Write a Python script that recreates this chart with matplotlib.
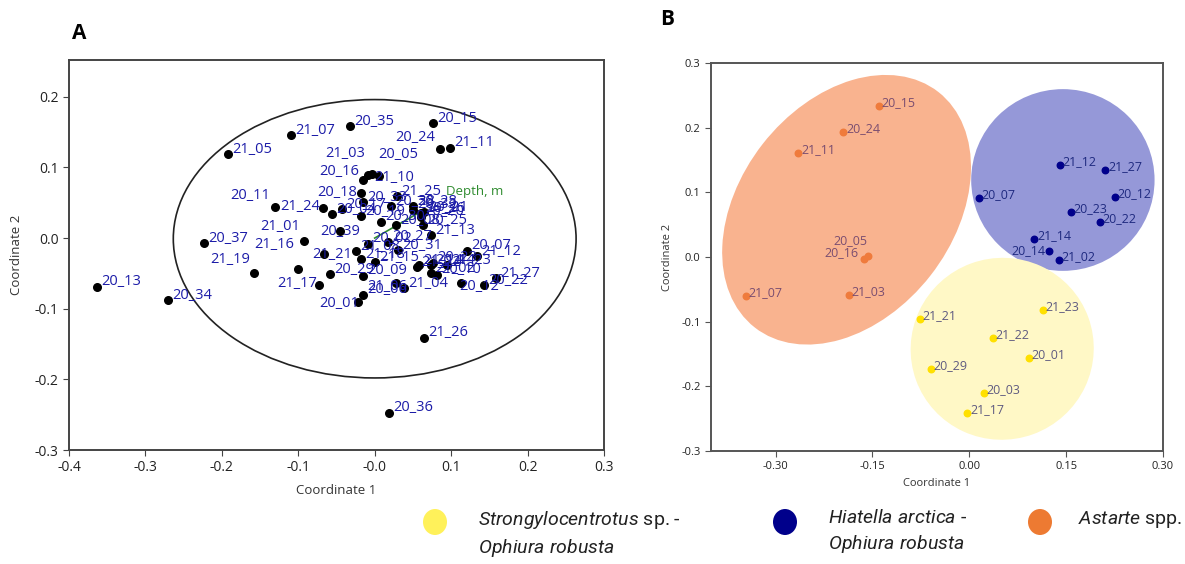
import numpy as np
import matplotlib.pyplot as plt
from matplotlib.patches import Ellipse
from matplotlib.ticker import FormatStrFormatter

plt.rcParams['font.family'] = ['Open Sans', 'DejaVu Sans']
plt.rcParams['axes.unicode_minus'] = False
plt.rcParams['mathtext.fontset'] = 'custom'
plt.rcParams['mathtext.it'] = 'Roboto:italic'
plt.rcParams['mathtext.rm'] = 'Roboto'

# ---------------- Panel A: nMDS of all stations ----------------
a_labels = ['20_13', '20_34', '20_37', '21_19', '21_05', '21_07', '20_35', '20_15',
            '20_24', '21_11', '20_11', '21_24', '21_01', '20_39', '21_16', '21_21',
            '21_17', '20_01', '20_36', '21_26', '21_12', '21_27', '20_12', '20_22',
            '21_10', '20_05', '21_03', '20_16', '20_18', '20_33', '21_25', '20_17',
            '20_28', '20_04', '20_19', '20_30', '20_08', '20_20', '20_21', '20_26',
            '20_25', '21_13', '20_07', '20_02', '20_27', '21_08', '21_18', '21_15',
            '20_09', '20_29', '20_10', '21_06', '21_04', '20_06', '20_23', '21_14',
            '20_14', '21_23', '21_02', '20_38', '20_31', '21_22', '20_32']
a_x = [-0.363, -0.270, -0.223, -0.158, -0.192, -0.109, -0.032, 0.076,
       0.085, 0.098, -0.131, -0.068, -0.092, -0.045, -0.100, -0.066,
       -0.073, -0.022, 0.019, 0.064, 0.134, 0.159, 0.113, 0.143,
       -0.004, 0.005, -0.009, -0.015, -0.018, -0.015, 0.029, -0.043,
       0.050, -0.056, -0.018, 0.008, 0.028, 0.060, 0.065, 0.061,
       0.063, 0.074, 0.121, -0.009, 0.018, -0.024, -0.018, 0.000,
       -0.015, -0.059, 0.082, 0.028, 0.038, -0.015, 0.076, 0.058,
       0.074, 0.095, 0.074, 0.021, 0.030, 0.056, 0.050]
a_y = [-0.069, -0.088, -0.007, -0.049, 0.119, 0.146, 0.158, 0.163,
       0.126, 0.128, 0.044, 0.043, -0.004, 0.010, -0.044, -0.022,
       -0.066, -0.091, -0.247, -0.141, -0.026, -0.057, -0.063, -0.067,
       0.091, 0.088, 0.089, 0.082, 0.064, 0.051, 0.059, 0.041,
       0.045, 0.034, 0.031, 0.023, 0.018, 0.030, 0.037, 0.035,
       0.018, 0.004, -0.018, -0.008, -0.005, -0.019, -0.030, -0.034,
       -0.053, -0.051, -0.052, -0.064, -0.071, -0.080, -0.035, -0.038,
       -0.038, -0.038, -0.050, 0.045, -0.017, -0.041, 0.040]

depth_vec = (0.063, 0.039)

# ---------------- Panel B: three groups ----------------
or_labels = ['20_15', '20_24', '21_11', '20_05', '20_16', '21_07', '21_03']
or_x = [-0.140, -0.195, -0.265, -0.157, -0.163, -0.346, -0.187]
or_y = [0.233, 0.193, 0.160, 0.002, -0.003, -0.060, -0.059]

bl_labels = ['20_07', '21_12', '21_27', '20_12', '20_23', '20_22', '21_14', '20_14', '21_02']
bl_x = [0.015, 0.140, 0.211, 0.225, 0.157, 0.202, 0.101, 0.124, 0.139]
bl_y = [0.091, 0.142, 0.134, 0.092, 0.070, 0.054, 0.027, 0.009, -0.005]

ye_labels = ['21_23', '21_21', '21_22', '20_01', '20_29', '20_03', '21_17']
ye_x = [0.114, -0.077, 0.037, 0.092, -0.060, 0.023, -0.003]
ye_y = [-0.082, -0.096, -0.125, -0.157, -0.173, -0.211, -0.242]

# label placement tweaks (offset points, ha)
a_offsets = {'21_19': (-3, 7, 'right'), '20_24': (-3, 6, 'right'), '20_11': (-3, 6, 'right'),
             '21_24': (-2, -2, 'right'), '21_01': (-3, 8, 'right'), '20_39': (14, -3, 'right'),
             '21_16': (-3, 15, 'right'), '21_21': (20, -3, 'right'), '21_17': (-1, -2, 'right'),
             '20_01': (1, -3, 'right'), '20_16': (-3, 4, 'right'), '20_18': (-3, -2, 'right'),
             '21_03': (-2, 13, 'right'), '20_05': (0, 13, 'left'), '21_10': (2, -5, 'left'),
             '20_12': (-1, -5, 'left'), '21_06': (8, -5, 'right')}
b_offsets = {'20_05': (0, 8, 'right'), '20_16': (-4, 2, 'right'), '20_14': (-3, -2, 'right')}

fig = plt.figure(figsize=(11.85, 5.64), dpi=100)

# ===== A =====
axA = fig.add_axes([0.0582, 0.2021, 0.4515, 0.6915])
axA.add_patch(Ellipse((0.0, -0.001), 0.527, 0.394, fill=False, edgecolor='#222222', lw=1.2))
axA.plot([0, depth_vec[0]], [0, depth_vec[1]], color='#2e8b2e', lw=1.2)
axA.text(depth_vec[0] + 0.03, depth_vec[1] + 0.022, 'Depth, m', color='#2e8b2e', fontsize=9.5)
axA.scatter(a_x, a_y, s=30, color='black', zorder=3)
for lab, x, y in zip(a_labels, a_x, a_y):
    dx, dy, ha = a_offsets.get(lab, (3, 1, 'left'))
    axA.annotate(lab, (x, y), xytext=(dx, dy), textcoords='offset points', ha=ha,
                 va='baseline', fontsize=10.5, color='#1c1ca8', zorder=4)
axA.set_xlim(-0.4, 0.3)
axA.set_ylim(-0.3, 0.252)
axA.set_xticks(np.arange(-0.4, 0.31, 0.1))
axA.set_yticks(np.arange(-0.3, 0.21, 0.1))
axA.xaxis.set_major_formatter(FormatStrFormatter('%.1f'))
axA.yaxis.set_major_formatter(FormatStrFormatter('%.1f'))
axA.tick_params(labelsize=10, length=4, color='#444444', labelcolor='#222222')
axA.set_xlabel('Coordinate 1', fontsize=9.5, color='#333333', labelpad=6)
axA.set_ylabel('Coordinate 2', fontsize=9.5, color='#333333', labelpad=8)
for sp in axA.spines.values():
    sp.set_color('#444444')
    sp.set_linewidth(1.4)
fig.text(0.061, 0.93, 'A', fontsize=15, fontweight='bold')

# ===== B =====
axB = fig.add_axes([0.6, 0.2004, 0.3814, 0.688])
axB.add_patch(Ellipse((-0.190, 0.073), 0.462, 0.33, angle=52, facecolor='#f9b38f', edgecolor='none'))
axB.add_patch(Ellipse((0.145, 0.119), 0.284, 0.281, facecolor='#9598d8', edgecolor='none'))
axB.add_patch(Ellipse((0.051, -0.142), 0.284, 0.281, angle=20, facecolor='#fff8c6', edgecolor='none'))

groups = [(or_labels, or_x, or_y, '#ef7b3c', '#7a4d70'),
          (bl_labels, bl_x, bl_y, '#00008b', '#1f2a80'),
          (ye_labels, ye_x, ye_y, '#ffe000', '#5e5a80')]
for labs, xs, ys, c, tc in groups:
    axB.scatter(xs, ys, s=22, color=c, zorder=3)
    for lab, x, y in zip(labs, xs, ys):
        dx, dy, ha = b_offsets.get(lab, (2, 0, 'left'))
        axB.annotate(lab, (x, y), xytext=(dx, dy), textcoords='offset points', ha=ha,
                     va='baseline', fontsize=9, color=tc, zorder=4)
axB.set_xlim(-0.4, 0.3)
axB.set_ylim(-0.3, 0.3)
axB.set_xticks([-0.30, -0.15, 0.0, 0.15, 0.30])
axB.set_yticks(np.arange(-0.3, 0.31, 0.1))
axB.xaxis.set_major_formatter(FormatStrFormatter('%.2f'))
axB.yaxis.set_major_formatter(FormatStrFormatter('%.1f'))
axB.tick_params(labelsize=8, length=4, color='#555555', labelcolor='#222222')
axB.set_xlabel('Coordinate 1', fontsize=8, color='#333333', labelpad=4)
axB.set_ylabel('Coordinate 2', fontsize=8, color='#333333', labelpad=6)
for sp in axB.spines.values():
    sp.set_color('#555555')
    sp.set_linewidth(1.4)
fig.text(0.557, 0.955, 'B', fontsize=15, fontweight='bold')

# ===== legend =====
leg_colors = ['#fff15a', '#00008b', '#ed7a32']
leg_texts = [r'$\it{Strongylocentrotus}$ sp. -' + '\n' + r'$\it{Ophiura\ robusta}$',
             r'$\it{Hiatella\ arctica}$ -' + '\n' + r'$\it{Ophiura\ robusta}$',
             r'$\it{Astarte}$ spp.']
leg_mx = [435, 785, 1040]
leg_tx = [478, 828, 1078]
for c, t, mx, tx in zip(leg_colors, leg_texts, leg_mx, leg_tx):
    fig.add_artist(Ellipse((mx / 1185, 1 - 522 / 564), 24 / 1185, 26 / 564,
                           transform=fig.transFigure, facecolor=c, edgecolor='none'))
    fig.text(tx / 1185, 1 - 509 / 564, t, fontsize=14, va='top', ha='left',
             family='Roboto', linespacing=1.4, color='#222222')

fig.savefig('out.png', dpi=100)
